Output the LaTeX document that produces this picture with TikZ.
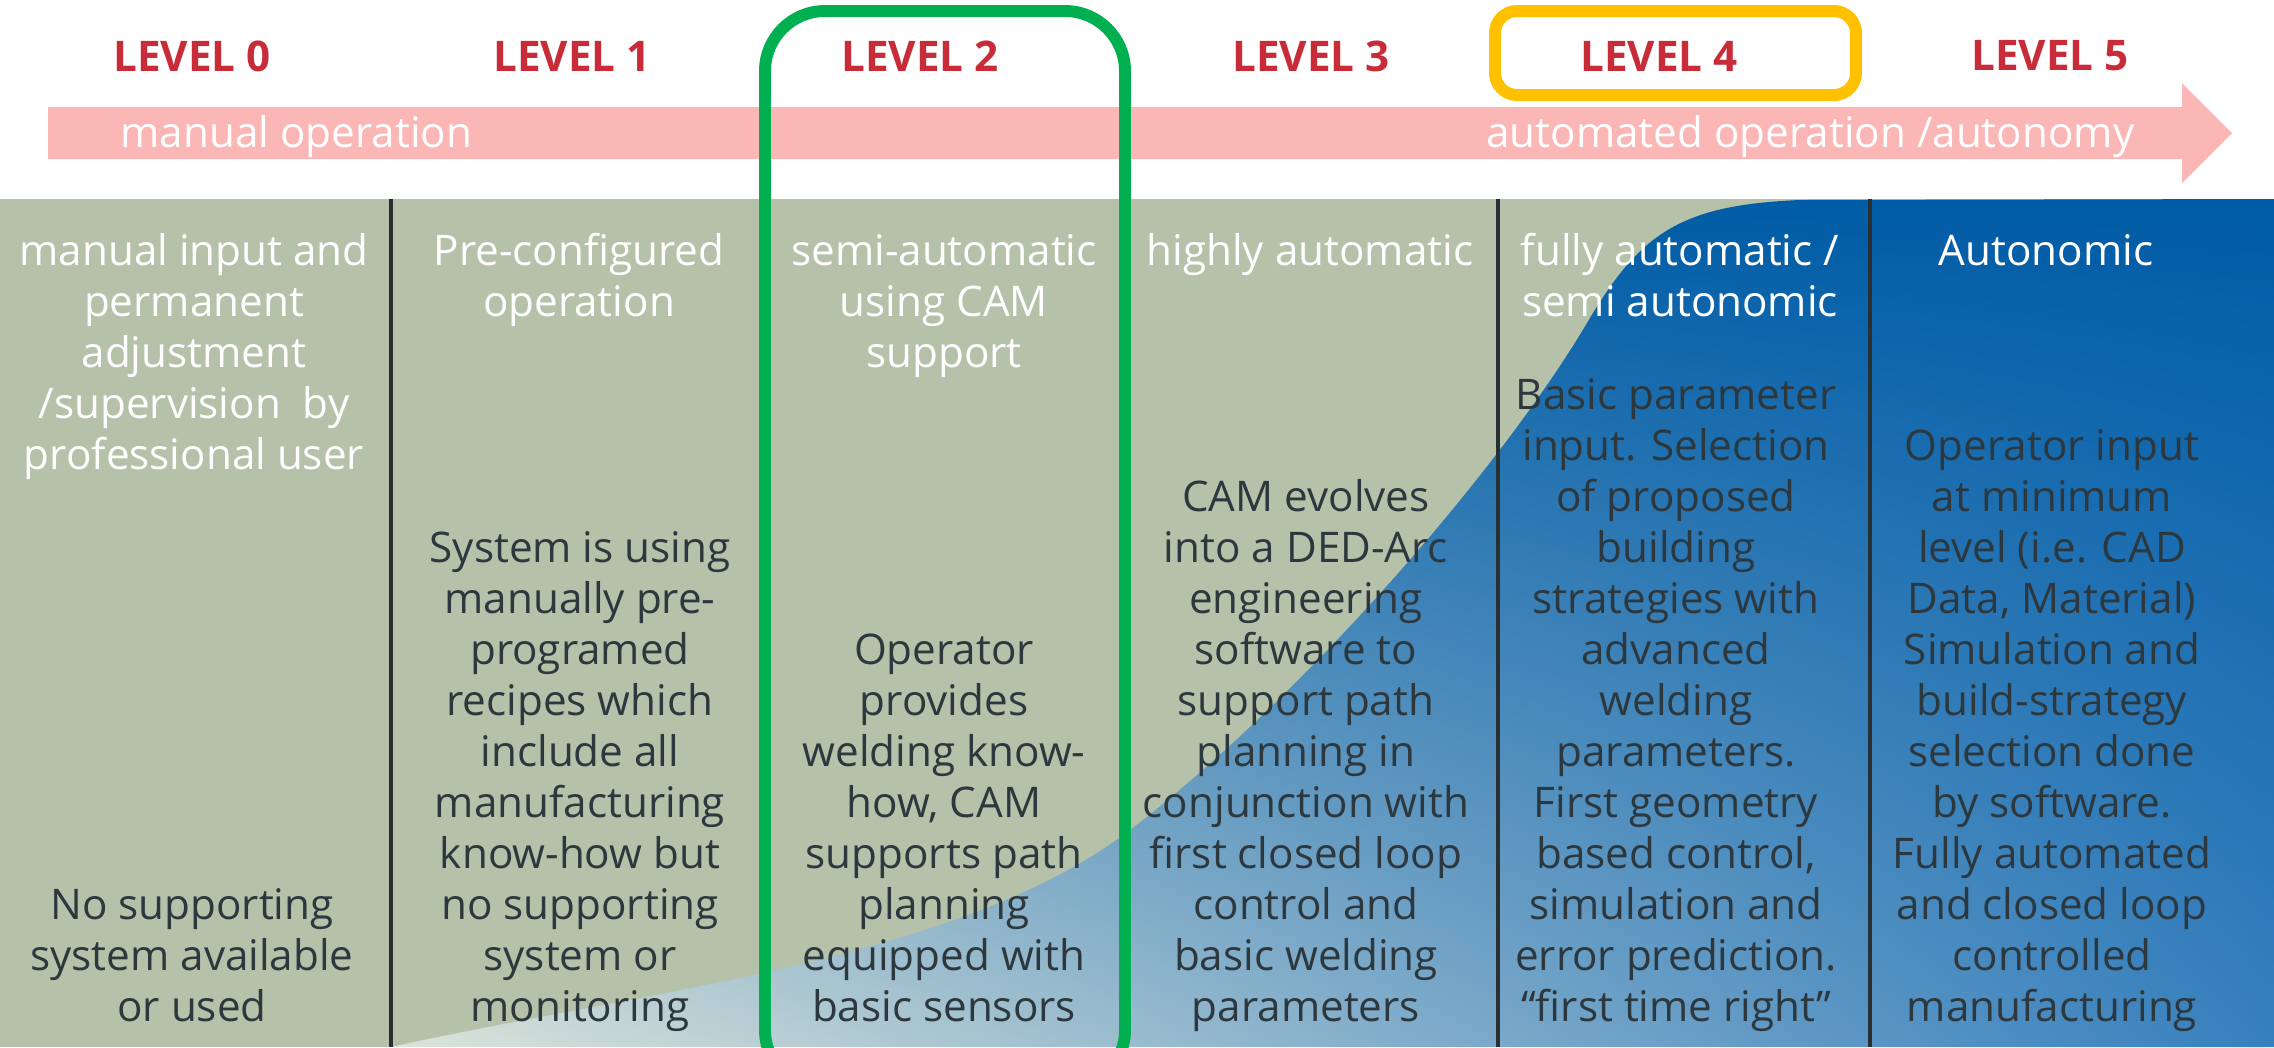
\documentclass[tikz,border=0pt]{standalone}
\usepackage{fontspec}
\setmainfont{Open Sans}
\usepackage{tikz}
\usetikzlibrary{positioning,shadings}
\definecolor{levelred}{RGB}{200,44,56}
\definecolor{arrowpink}{RGB}{251,182,182}
\definecolor{panelgreen}{RGB}{181,193,169}
\definecolor{darkblue}{RGB}{0,92,166}
\definecolor{midblue}{RGB}{55,128,190}
\definecolor{paleblue}{RGB}{220,228,218}
\definecolor{textdark}{RGB}{45,56,62}
\definecolor{dividergrey}{RGB}{40,48,52}
\definecolor{boxgreen}{RGB}{0,176,80}
\definecolor{boxorange}{RGB}{255,192,0}

\begin{document}
\begin{tikzpicture}[x=0.01cm, y=-0.01cm,
levelnode/.style={text=levelred, font=\fontsize{12}{14.5}\selectfont\bfseries, inner sep=0pt},
arrowtext/.style={text=white, font=\fontsize{12}{14.5}\selectfont, inner sep=0pt},
headnode/.style={text=white, align=center, font=\fontsize{12}{14.5}\selectfont, inner sep=0pt, anchor=base},
bodynode/.style={text=textdark, align=center, font=\fontsize{12}{14.5}\selectfont, inner sep=0pt, anchor=base},
divider/.style={draw=dividergrey, line width=1.15pt},
]
\useasboundingbox (0,0) rectangle (2274,1047);

%Background
\fill[panelgreen] (0,199) rectangle (2274,1047);
\shade[upper left=darkblue, upper right=darkblue, lower left=paleblue, lower right=midblue]
  (391,1047) .. controls (650,990) and (960,960) .. (1130,830)
  .. controls (1300,700) and (1500,470) .. (1587,323)
  .. controls (1640,233) and (1680,205) .. (1800,200) -- (2274,199) -- (2274,1047) -- cycle;
\fill[arrowpink] (48,107) -- (2182,107) -- (2182,83) -- (2232,133) -- (2182,183) -- (2182,159) -- (48,159) -- cycle;

%Dividers
\foreach \x in {391,765,1125,1498,1870}
  \draw[divider] (\x,199) -- (\x,1047);

%Levels
\node[levelnode] (lvl0) at (192,56) {LEVEL 0};
\node[levelnode] (lvl1) at (572,56) {LEVEL 1};
\node[levelnode] (lvl2) at (920,56) {LEVEL 2};
\node[levelnode] (lvl3) at (1311,56) {LEVEL 3};
\node[levelnode] (lvl4) at (1659,56) {LEVEL 4};
\node[levelnode] (lvl5) at (2050,56) {LEVEL 5};

\node[arrowtext, anchor=base west] (manual) at (120,147) {manual operation};
\node[arrowtext, anchor=base east] (auto) at (2135,147) {automated operation /autonomy};

%Headers
\node[headnode] (head0) at (194,469) {manual input and\\permanent\\adjustment\\/supervision~ by\\professional user};
\node[headnode] (head1) at (579,316) {Pre-configured\\operation};
\node[headnode] (head2) at (944,367) {semi-automatic\\using CAM\\support};
\node[headnode] (head3) at (1310,265) {highly automatic};
\node[headnode] (head4) at (1680,316) {fully automatic /\\semi autonomic};
\node[headnode] (head5) at (2046,265) {Autonomic};

%Descriptions
\node[bodynode] (body0) at (192,1021) {No supporting\\system available\\or used};
\node[bodynode] (body1) at (580,1021) {System is using\\manually pre-\\programed\\recipes which\\include all\\manufacturing\\know-how but\\no supporting\\system or\\monitoring};
\node[bodynode] (body2) at (944,1021) {Operator\\provides\\welding know-\\how, CAM\\supports path\\planning\\equipped with\\basic sensors};
\node[bodynode] (body3) at (1306,1021) {CAM evolves\\into a DED-Arc\\engineering\\software to\\support path\\planning in\\conjunction with\\first closed loop\\control and\\basic welding\\parameters};
\node[bodynode] (body4) at (1676,1021) {Basic parameter\\input. Selection\\of proposed\\building\\strategies with\\advanced\\welding\\parameters.\\First geometry\\based control,\\simulation and\\error prediction.\\``first time right''};
\node[bodynode] (body5) at (2052,1021) {Operator input\\at minimum\\level (i.e. CAD\\Data, Material)\\Simulation and\\build-strategy\\selection done\\by software.\\Fully automated\\and closed loop\\controlled\\manufacturing};

%Highlights
\draw[boxgreen, line width=3.4pt, rounded corners=0.6cm] (765,11) rectangle (1125,1090);
\draw[boxorange, line width=3.4pt, rounded corners=0.22cm] (1495,11) rectangle (1856,95);
\end{tikzpicture}
\end{document}
